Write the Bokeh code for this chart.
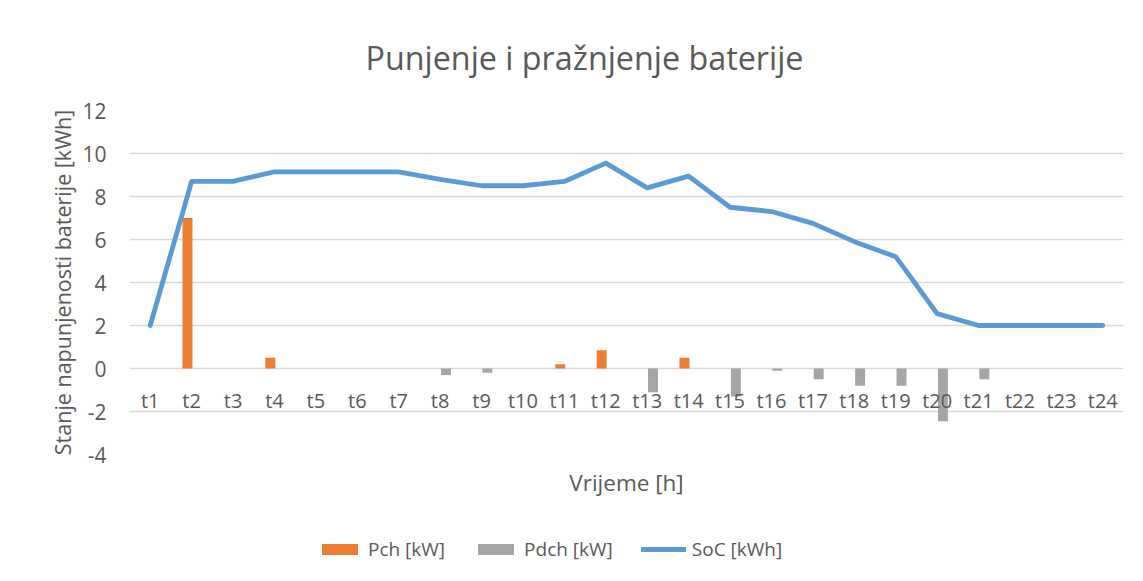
from bokeh.plotting import figure
from bokeh.layouts import column
from bokeh.models import (FactorRange, Range1d, Legend, LegendItem,
                          ColumnDataSource, FixedTicker, PrintfTickFormatter)
from bokeh.transform import dodge
from bokeh.core.properties import value
from bokeh.embed import file_html
from bokeh.resources import INLINE

# ---------------- data ----------------
hours = [f"t{i}" for i in range(1, 25)]
pch = [0, 7.0, 0, 0.5, 0, 0, 0, 0, 0, 0, 0.2, 0.85, 0, 0.5, 0, 0, 0, 0, 0, 0, 0, 0, 0, 0]
pdch = [0, 0, 0, 0, 0, 0, 0, -0.3, -0.2, 0, 0, 0, -1.1, 0, -1.3, -0.1, -0.5, -0.8, -0.8, -2.45, -0.5, 0, 0, 0]
soc = [2, 8.7, 8.7, 9.15, 9.15, 9.15, 9.15, 8.8, 8.5, 8.5, 8.7, 9.55, 8.4, 8.95,
       7.5, 7.3, 6.75, 5.9, 5.2, 2.55, 2, 2, 2, 2]
y_ticks = [-4, -2, 0, 2, 4, 6, 8, 10, 12]

title_text = "Punjenje i pražnjenje baterije"
y_label = "Stanje napunjenosti baterije [kWh]"
x_label = "Vrijeme [h]"
series_names = ["Pch [kW]", "Pdch [kW]", "SoC [kWh]"]

# ---------------- styles ----------------
FONT = "Open Sans"
TXT = "#595959"
ORANGE = "#ED7D31"
GRAY = "#A5A5A5"
BLUE = "#5B9BD5"
GRID = "#D9D9D9"

src = ColumnDataSource(dict(hours=hours, pch=pch, pdch=pdch, soc=soc,
                            lab_y=[-1.5] * len(hours)))

p = figure(width=1135, height=500, x_range=FactorRange(*hours),
           y_range=Range1d(-4, 12), output_backend="svg", toolbar_location=None,
           min_border_left=129, min_border_right=12, min_border_top=110,
           min_border_bottom=43, title=title_text)
p.outline_line_color = None
p.background_fill_color = "white"
p.border_fill_color = "white"

# title
p.title.align = "left"
p.title.offset = 236
p.title.standoff = 64
p.title.text_font = FONT
p.title.text_font_size = "32.3px"
p.title.text_font_style = "normal"
p.title.text_color = TXT

# axes
p.yaxis.ticker = FixedTicker(ticks=y_ticks)
p.yaxis.formatter = PrintfTickFormatter(format="%d")
p.yaxis.axis_line_color = None
p.yaxis.major_tick_line_color = None
p.yaxis.minor_tick_line_color = None
p.yaxis.major_label_text_font = FONT
p.yaxis.major_label_text_font_size = "21px"
p.yaxis.major_label_text_color = TXT
p.yaxis.major_label_standoff = 17
p.yaxis.axis_label = y_label
p.yaxis.axis_label_text_font = FONT
p.yaxis.axis_label_text_font_size = "21.5px"
p.yaxis.axis_label_text_font_style = "normal"
p.yaxis.axis_label_text_color = TXT
p.yaxis.axis_label_standoff = 2

p.xaxis.axis_line_color = None
p.xaxis.major_tick_line_color = None
p.xaxis.minor_tick_line_color = None
p.xaxis.major_label_text_font_size = "1px"
p.xaxis.major_label_text_color = None
p.xaxis.major_label_standoff = 0
p.xaxis.major_tick_out = 0
p.xaxis.axis_label = x_label
p.xaxis.axis_label_text_font = FONT
p.xaxis.axis_label_text_font_size = "22.5px"
p.xaxis.axis_label_text_font_style = "normal"
p.xaxis.axis_label_text_color = TXT
p.xaxis.axis_label_standoff = 12

p.xgrid.grid_line_color = None
p.ygrid.grid_line_color = GRID
p.ygrid.grid_line_width = 1.3

# bars
r_pch = p.vbar(x=dodge("hours", -0.1, range=p.x_range), top="pch", bottom=0,
               width=0.24, source=src, fill_color=ORANGE, line_color=None)
r_pdch = p.vbar(x=dodge("hours", 0.14, range=p.x_range), top="pdch", bottom=0,
                width=0.24, source=src, fill_color=GRAY, line_color=None)
# line
r_soc = p.line(x="hours", y="soc", source=src, line_color=BLUE, line_width=4.8,
               line_join="round", line_cap="round")

# category labels drawn next to the zero line
p.text(x="hours", y="lab_y", text="hours", source=src, text_align="center",
       text_baseline="middle", text_font=value(FONT), text_font_size="20px",
       text_color=TXT)

# ---------------- legend strip (same series, drawn outside its view) ----------------
pl = figure(width=1135, height=73, x_range=FactorRange(*hours),
            y_range=Range1d(100, 101), output_backend="svg",
            toolbar_location=None, min_border_left=0, min_border_right=0,
            min_border_top=0, min_border_bottom=0)
pl.axis.visible = False
pl.grid.visible = False
pl.outline_line_color = None
pl.border_fill_color = "white"
l_pch = pl.vbar(x="hours", top="pch", bottom=0, width=0.24, source=src,
                fill_color=ORANGE, line_color=None)
l_pdch = pl.vbar(x="hours", top="pdch", bottom=0, width=0.24, source=src,
                 fill_color=GRAY, line_color=None)
l_soc = pl.line(x="hours", y="soc", source=src, line_color=BLUE, line_width=4.8,
                line_cap="round")

legend = Legend(items=[LegendItem(label=series_names[0], renderers=[l_pch]),
                       LegendItem(label=series_names[1], renderers=[l_pdch]),
                       LegendItem(label=series_names[2], renderers=[l_soc])],
                orientation="horizontal", location=(188, 11),
                label_text_font=FONT, label_text_font_size="19px",
                label_text_color=TXT, glyph_width=45, glyph_height=14,
                spacing=28, label_standoff=6, border_line_color=None,
                background_fill_alpha=0, margin=0, padding=4)
pl.add_layout(legend, "center")

open("out.html", "w").write(file_html(column(p, pl, spacing=0), INLINE))
